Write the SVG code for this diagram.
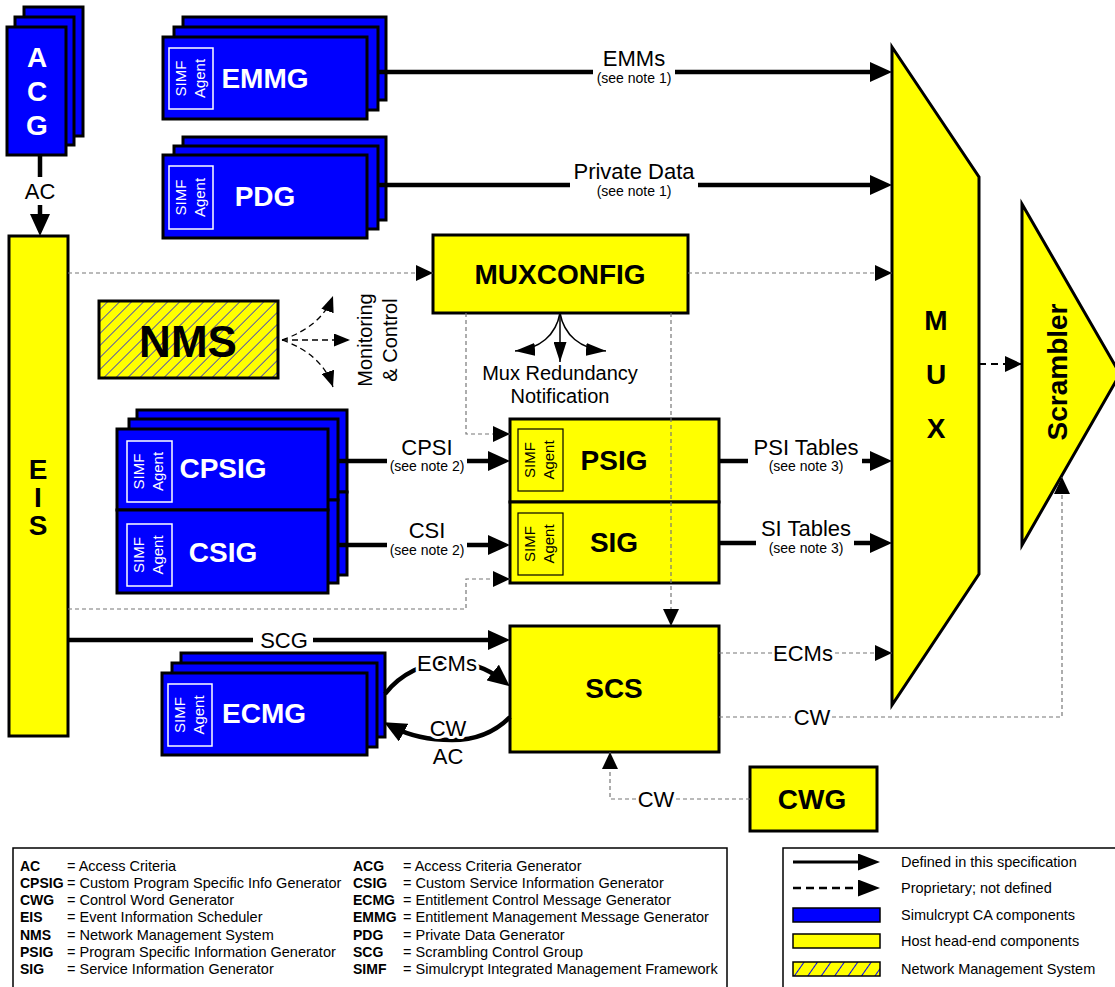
<svg xmlns="http://www.w3.org/2000/svg" width="1115" height="987" viewBox="0 0 1115 987">
<style>
.blue{fill:#0000FF;stroke:#000;stroke-width:3}
.yel{fill:#FFFF00;stroke:#000;stroke-width:3}
.simfw{fill:none;stroke:#fff;stroke-width:1.5}
.simfb{fill:none;stroke:#000;stroke-width:1.2}
text{font-family:"Liberation Sans",Arial,sans-serif}
.tw{fill:#fff;font-weight:bold;font-size:28px;text-anchor:middle;dominant-baseline:central}
.tb{fill:#000;font-weight:bold;font-size:28px;text-anchor:middle;dominant-baseline:central}
.sw{fill:#fff;font-size:15px;text-anchor:middle;dominant-baseline:central}
.sb{fill:#000;font-size:15px;text-anchor:middle;dominant-baseline:central}
.lbl{fill:#000;font-size:22px;text-anchor:middle;dominant-baseline:central}
.lbm{fill:#000;font-size:20px;text-anchor:middle;dominant-baseline:central}
.note{fill:#000;font-size:14px;text-anchor:middle;dominant-baseline:central}
.thick{stroke:#000;stroke-width:4.5;fill:none}
.thin{stroke:#000;stroke-width:1.5;fill:none}
.dash{stroke:#777;stroke-width:1.2;stroke-dasharray:4 3;fill:none}
.dashk{stroke:#000;stroke-width:1.3;stroke-dasharray:6 4;fill:none}
.halo{paint-order:stroke;stroke:#fff;stroke-width:6px;stroke-linejoin:round}
.lg{fill:#000;font-size:14.5px;dominant-baseline:central}
.lgb{fill:#000;font-size:14px;font-weight:bold;dominant-baseline:central}
</style>
<defs>
<marker id="ah" viewBox="0 0 22 20" refX="12" refY="10" markerWidth="22" markerHeight="20" markerUnits="userSpaceOnUse" orient="auto"><path d="M0,0 L22,10 L0,20z" fill="#000"/></marker>
<marker id="ahd" viewBox="0 0 17 16" refX="17" refY="8" markerWidth="17" markerHeight="16" markerUnits="userSpaceOnUse" orient="auto"><path d="M0,0 L17,8 L0,16z" fill="#000"/></marker>
<marker id="aht" viewBox="0 0 20 13" refX="20" refY="6.5" markerWidth="20" markerHeight="13" markerUnits="userSpaceOnUse" orient="auto"><path d="M0,0 L20,6.5 L0,13z" fill="#000"/></marker>
<marker id="ahn" viewBox="0 0 16 13" refX="16" refY="6.5" markerWidth="16" markerHeight="13" markerUnits="userSpaceOnUse" orient="auto"><path d="M0,0 L16,6.5 L0,13z" fill="#000"/></marker>
<marker id="ahl" viewBox="0 0 22 17" refX="12" refY="8.5" markerWidth="22" markerHeight="17" markerUnits="userSpaceOnUse" orient="auto"><path d="M0,0 L22,8.5 L0,17z" fill="#000"/></marker>
<pattern id="hatch" patternUnits="userSpaceOnUse" width="8.5" height="8.5" patternTransform="rotate(45)"><rect width="8.5" height="8.5" fill="#FFFF00"/><line x1="0" y1="0" x2="0" y2="8.5" stroke="#0000FF" stroke-width="1.3"/></pattern>
<pattern id="hatch2" patternUnits="userSpaceOnUse" width="11" height="11" patternTransform="rotate(35)"><rect width="11" height="11" fill="#FFFF00"/><line x1="0" y1="0" x2="0" y2="11" stroke="#0000FF" stroke-width="2"/></pattern>
</defs>

<!-- Nodes -->
<g id="acg">
<rect class="blue" x="24" y="7" width="59" height="129"/>
<rect class="blue" x="15" y="17" width="59" height="128"/>
<rect class="blue" x="7" y="27" width="59" height="128"/>
<text class="tw" x="37" y="57">A</text>
<text class="tw" x="37" y="91">C</text>
<text class="tw" x="37" y="125">G</text>
</g>

<g id="emmg">
<rect class="blue" x="183" y="17" width="203" height="83"/>
<rect class="blue" x="174" y="27" width="204" height="83"/>
<rect class="blue" x="163" y="37" width="204" height="82"/>
<rect class="simfw" x="169" y="48" width="44" height="61"/>
<text class="sw" transform="translate(180,78.5) rotate(-90)">SIMF</text>
<text class="sw" transform="translate(199,78.5) rotate(-90)">Agent</text>
<text class="tw" x="265" y="78">EMMG</text>
</g>

<g id="pdg">
<rect class="blue" x="183" y="137" width="203" height="83"/>
<rect class="blue" x="174" y="146" width="204" height="83"/>
<rect class="blue" x="163" y="155" width="204" height="83"/>
<rect class="simfw" x="169" y="166" width="44" height="63"/>
<text class="sw" transform="translate(180,197.5) rotate(-90)">SIMF</text>
<text class="sw" transform="translate(199,197.5) rotate(-90)">Agent</text>
<text class="tw" x="265" y="196">PDG</text>
</g>

<g id="eis">
<rect class="yel" x="9" y="236" width="59" height="500"/>
<text class="tb" x="38" y="469" font-size="25">E</text>
<text class="tb" x="38" y="497" font-size="25">I</text>
<text class="tb" x="38" y="525" font-size="25">S</text>
</g>

<g id="muxconfig">
<rect class="yel" x="433" y="235" width="255" height="78"/>
<text class="tb" x="560" y="274">MUXCONFIG</text>
</g>

<g id="nms">
<rect x="99" y="301" width="179" height="77" fill="url(#hatch)" stroke="#000" stroke-width="3"/>
<text x="188" y="341" fill="#000" font-weight="bold" font-size="44" text-anchor="middle" dominant-baseline="central">NMS</text>
</g>

<g id="cpsig">
<rect class="blue" x="137" y="410" width="210" height="82"/>
<rect class="blue" x="137" y="492" width="210" height="83"/>
<rect class="blue" x="129" y="419" width="209" height="81"/>
<rect class="blue" x="129" y="500" width="209" height="83"/>
<rect class="blue" x="117" y="429" width="211" height="81"/>
<rect class="simfw" x="127" y="441" width="45" height="61"/>
<text class="sw" transform="translate(138,471.5) rotate(-90)">SIMF</text>
<text class="sw" transform="translate(157,471.5) rotate(-90)">Agent</text>
<text class="tw" x="223" y="468">CPSIG</text>
</g>

<g id="csig">
<rect class="blue" x="117" y="510" width="211" height="83"/>
<rect class="simfw" x="127" y="524" width="45" height="62"/>
<text class="sw" transform="translate(138,555) rotate(-90)">SIMF</text>
<text class="sw" transform="translate(157,555) rotate(-90)">Agent</text>
<text class="tw" x="223" y="552">CSIG</text>
</g>

<g id="psig">
<rect class="yel" x="510" y="419" width="209" height="83"/>
<rect class="simfb" x="518" y="429" width="45" height="62"/>
<text class="sb" transform="translate(529,460) rotate(-90)">SIMF</text>
<text class="sb" transform="translate(548,460) rotate(-90)">Agent</text>
<text class="tb" x="614" y="460">PSIG</text>
</g>

<g id="sig">
<rect class="yel" x="510" y="502" width="209" height="81"/>
<rect class="simfb" x="518" y="513" width="45" height="62"/>
<text class="sb" transform="translate(529,544) rotate(-90)">SIMF</text>
<text class="sb" transform="translate(548,544) rotate(-90)">Agent</text>
<text class="tb" x="614" y="542">SIG</text>
</g>

<g id="ecmg">
<rect class="blue" x="181" y="653" width="204" height="84"/>
<rect class="blue" x="172" y="663" width="205" height="84"/>
<rect class="blue" x="162" y="673" width="205" height="82"/>
<rect class="simfw" x="168" y="684" width="44" height="62"/>
<text class="sw" transform="translate(179,715) rotate(-90)">SIMF</text>
<text class="sw" transform="translate(198,715) rotate(-90)">Agent</text>
<text class="tw" x="264" y="713">ECMG</text>
</g>

<g id="scs">
<rect class="yel" x="510" y="626" width="209" height="126"/>
<text class="tb" x="614" y="688">SCS</text>
</g>

<g id="cwg">
<rect class="yel" x="750" y="767" width="127" height="64"/>
<text class="tb" x="812" y="799">CWG</text>
</g>

<g id="mux">
<polygon class="yel" points="892,47 979,177 979,574 892,705"/>
<text class="tb" x="936" y="320" font-size="42">M</text>
<text class="tb" x="936" y="374" font-size="42">U</text>
<text class="tb" x="936" y="428" font-size="42">X</text>
</g>

<g id="scrambler">
<polygon class="yel" points="1022,204 1120,374 1022,545"/>
<text class="tb" font-size="27" transform="translate(1057,372) rotate(-90)">Scrambler</text>
</g>

<!-- Connectors -->
<g id="connectors">
<line class="thick" x1="40" y1="155" x2="40" y2="177"/>
<line class="thick" x1="40" y1="205" x2="40" y2="226" marker-end="url(#ah)"/>
<text class="lbl" x="40" y="191">AC</text>
<line class="thick" x1="378" y1="72" x2="593" y2="72"/>
<line class="thick" x1="675" y1="72" x2="882" y2="72" marker-end="url(#ah)"/>
<text class="lbl" x="634" y="58">EMMs</text>
<text class="note" x="634" y="78">(see note 1)</text>
<line class="thick" x1="378" y1="185" x2="570" y2="185"/>
<line class="thick" x1="698" y1="185" x2="882" y2="185" marker-end="url(#ah)"/>
<text class="lbl" x="634" y="171">Private Data</text>
<text class="note" x="634" y="191">(see note 1)</text>
<path class="dash" d="M68,273 H433" marker-end="url(#ahd)"/>
<path class="dash" d="M688,273 H892" marker-end="url(#ahd)"/>
<path class="dash" d="M466,313 V434 H510" marker-end="url(#ahd)"/>
<path class="dash" d="M671,313 V626" marker-end="url(#ahd)"/>
<path class="dash" d="M68,609 H466 V579 H510" marker-end="url(#ahd)"/>
<path class="thin" d="M560,313 C556,335 540,349 515,351" marker-end="url(#aht)"/>
<path class="thin" d="M560,313 V362" marker-end="url(#aht)"/>
<path class="thin" d="M560,313 C564,335 580,349 606,351" marker-end="url(#aht)"/>
<text class="lbm" x="560" y="373">Mux Redundancy</text>
<text class="lbm" x="560" y="396">Notification</text>
<path class="dashk" d="M282,340 Q322,326 333,296" marker-end="url(#ahn)"/>
<path class="dashk" d="M282,340 H350" marker-end="url(#ahn)"/>
<path class="dashk" d="M282,340 Q322,354 333,387" marker-end="url(#ahn)"/>
<text class="lbm" transform="translate(365,340) rotate(-90)">Monitoring</text>
<text class="lbm" transform="translate(390,340) rotate(-90)">&amp; Control</text>
<line class="thick" x1="338" y1="461" x2="387" y2="461"/>
<line class="thick" x1="467" y1="461" x2="500" y2="461" marker-end="url(#ah)"/>
<text class="lbl" x="427" y="447">CPSI</text>
<text class="note" x="427" y="466">(see note 2)</text>
<line class="thick" x1="338" y1="545" x2="387" y2="545"/>
<line class="thick" x1="467" y1="545" x2="500" y2="545" marker-end="url(#ah)"/>
<text class="lbl" x="427" y="530">CSI</text>
<text class="note" x="427" y="550">(see note 2)</text>
<line class="thick" x1="719" y1="461" x2="748" y2="461"/>
<line class="thick" x1="862" y1="461" x2="882" y2="461" marker-end="url(#ah)"/>
<text class="lbl" x="806" y="447">PSI Tables</text>
<text class="note" x="806" y="466">(see note 3)</text>
<line class="thick" x1="719" y1="543" x2="756" y2="543"/>
<line class="thick" x1="854" y1="543" x2="882" y2="543" marker-end="url(#ah)"/>
<text class="lbl" x="806" y="528">SI Tables</text>
<text class="note" x="806" y="548">(see note 3)</text>
<line class="thick" x1="68" y1="640" x2="253" y2="640"/>
<line class="thick" x1="313" y1="640" x2="500" y2="640" marker-end="url(#ah)"/>
<text class="lbl" x="284" y="640">SCG</text>
<path class="thick" d="M385,694 C400,674 425,662 450,662 C474,662 492,672 502,680" marker-end="url(#ah)"/>
<text class="lbl halo" x="447" y="663">ECMs</text>
<path class="thick" d="M510,717 C494,733 476,740 452,740 C428,740 408,735 393,727" marker-end="url(#ah)"/>
<text class="lbl halo" x="448" y="728">CW</text>
<text class="lbl" x="448" y="756">AC</text>
<path class="dash" d="M719,653 H772"/>
<path class="dash" d="M835,653 H892" marker-end="url(#ahd)"/>
<text class="lbl" x="803" y="653">ECMs</text>
<path class="dash" d="M719,717 H791"/>
<path class="dash" d="M832,717 H1062 V477" marker-end="url(#ahd)"/>
<text class="lbl" x="812" y="717">CW</text>
<path class="dash" d="M750,799 H676"/>
<path class="dash" d="M636,799 H610 V752" marker-end="url(#ahd)"/>
<text class="lbl" x="656" y="799">CW</text>
<path d="M979,364 H1022" stroke="#000" stroke-width="2" stroke-dasharray="7 5" fill="none" marker-end="url(#ahd)"/>
</g>

<g id="legend-abbrev">
<rect x="13" y="848" width="714" height="150" fill="#fff" stroke="#000" stroke-width="1.5"/>
<text class="lgb" x="20" y="866">AC</text><text class="lg" x="67" y="866">= Access Criteria</text>
<text class="lgb" x="20" y="883">CPSIG</text><text class="lg" x="67" y="883">= Custom Program Specific Info Generator</text>
<text class="lgb" x="20" y="900">CWG</text><text class="lg" x="67" y="900">= Control Word Generator</text>
<text class="lgb" x="20" y="917">EIS</text><text class="lg" x="67" y="917">= Event Information Scheduler</text>
<text class="lgb" x="20" y="935">NMS</text><text class="lg" x="67" y="935">= Network Management System</text>
<text class="lgb" x="20" y="952">PSIG</text><text class="lg" x="67" y="952">= Program Specific Information Generator</text>
<text class="lgb" x="20" y="969">SIG</text><text class="lg" x="67" y="969">= Service Information Generator</text>
<text class="lgb" x="353" y="866">ACG</text><text class="lg" x="403" y="866">= Access Criteria Generator</text>
<text class="lgb" x="353" y="883">CSIG</text><text class="lg" x="403" y="883">= Custom Service Information Generator</text>
<text class="lgb" x="353" y="900">ECMG</text><text class="lg" x="403" y="900">= Entitlement Control Message Generator</text>
<text class="lgb" x="353" y="917">EMMG</text><text class="lg" x="403" y="917">= Entitlement Management Message Generator</text>
<text class="lgb" x="353" y="935">PDG</text><text class="lg" x="403" y="935">= Private Data Generator</text>
<text class="lgb" x="353" y="952">SCG</text><text class="lg" x="403" y="952">= Scrambling Control Group</text>
<text class="lgb" x="353" y="969">SIMF</text><text class="lg" x="403" y="969">= Simulcrypt Integrated Management Framework</text>
</g>

<g id="legend-key">
<rect x="783" y="848" width="340" height="150" fill="#fff" stroke="#000" stroke-width="1.5"/>
<line x1="793" y1="862" x2="870" y2="862" stroke="#000" stroke-width="3" marker-end="url(#ahl)"/>
<text class="lg" x="901" y="862" font-size="15">Defined in this specification</text>
<line x1="793" y1="888" x2="870" y2="888" stroke="#000" stroke-width="2.5" stroke-dasharray="8 5" marker-end="url(#ahl)"/>
<text class="lg" x="901" y="888" font-size="15">Proprietary; not defined</text>
<rect x="793" y="908" width="87" height="14" fill="#0000FF" stroke="#000" stroke-width="1.5"/>
<text class="lg" x="901" y="915" font-size="15">Simulcrypt CA components</text>
<rect x="793" y="934" width="87" height="14" fill="#FFFF00" stroke="#000" stroke-width="1.5"/>
<text class="lg" x="901" y="941" font-size="15">Host head-end components</text>
<rect x="793" y="962" width="87" height="14" fill="url(#hatch2)" stroke="#000" stroke-width="1.5"/>
<text class="lg" x="901" y="969" font-size="15">Network Management System</text>
</g>
</svg>
